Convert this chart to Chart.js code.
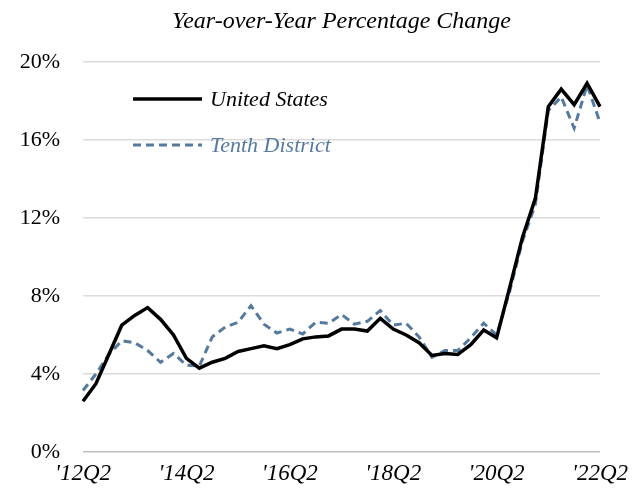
<!DOCTYPE html>
<html>
<head>
<meta charset="utf-8">
<script src="https://cdn.jsdelivr.net/npm/chart.js@4"></script>
<style>
    html, body { margin: 0; padding: 0; background: #fff; }
    #wrap { width: 639px; height: 500px; }
</style>
</head>
<body>
<div id="wrap"><canvas id="chart" width="639" height="500"></canvas></div>
<script>
// quarters '12Q2 .. '22Q2
const quarters = [
    "'12Q2", "'12Q3", "'12Q4",
    "'13Q1", "'13Q2", "'13Q3", "'13Q4",
    "'14Q1", "'14Q2", "'14Q3", "'14Q4",
    "'15Q1", "'15Q2", "'15Q3", "'15Q4",
    "'16Q1", "'16Q2", "'16Q3", "'16Q4",
    "'17Q1", "'17Q2", "'17Q3", "'17Q4",
    "'18Q1", "'18Q2", "'18Q3", "'18Q4",
    "'19Q1", "'19Q2", "'19Q3", "'19Q4",
    "'20Q1", "'20Q2", "'20Q3", "'20Q4",
    "'21Q1", "'21Q2", "'21Q3", "'21Q4",
    "'22Q1", "'22Q2"
];

const unitedStates = [
    2.6, 3.5, 5.0, 6.5, 7.0, 7.4, 6.8, 6.0, 4.8, 4.3,
    4.6, 4.8, 5.15, 5.3, 5.45, 5.3, 5.5, 5.8, 5.9, 5.95,
    6.3, 6.3, 6.2, 6.85, 6.3, 6.0, 5.6, 4.95, 5.05, 5.0,
    5.5, 6.25, 5.85, 8.4, 11.0, 13.0, 17.7, 18.6, 17.8, 18.9,
    17.7
];

const tenthDistrict = [
    3.15, 4.0, 5.0, 5.7, 5.6, 5.2, 4.6, 5.05, 4.45, 4.4,
    5.9, 6.4, 6.65, 7.5, 6.55, 6.1, 6.3, 6.05, 6.65, 6.6,
    7.05, 6.55, 6.7, 7.25, 6.5, 6.6, 5.9, 4.85, 5.2, 5.2,
    5.85, 6.6, 6.0, 8.2, 10.8, 12.7, 17.5, 18.2, 16.6, 18.8,
    16.9
];

const yTicks = [0, 4, 8, 12, 16, 20];

const FONT = "'Liberation Serif', 'Times New Roman', serif";
const BLUE = '#557a9e';

// legend drawn inside the plot, stacked, like the original
const insideLegend = {
    id: 'insideLegend',
    afterDraw(chart) {
        const ctx = chart.ctx;
        const x0 = 133, x1 = 202;
        const rows = [{ y: 99 }, { y: 145 }];
        ctx.save();
        chart.data.datasets.forEach((ds, i) => {
            const y = rows[i].y;
            ctx.beginPath();
            ctx.lineWidth = ds.borderWidth;
            ctx.strokeStyle = ds.borderColor;
            ctx.setLineDash(ds.borderDash || []);
            ctx.moveTo(x0, y);
            ctx.lineTo(x1, y);
            ctx.stroke();
            ctx.setLineDash([]);
            ctx.font = 'italic 22px ' + FONT;
            ctx.fillStyle = i === 0 ? '#000' : BLUE;
            ctx.textBaseline = 'middle';
            ctx.fillText(ds.label, 210, y + 1);
        });
        ctx.restore();
    }
};

new Chart(document.getElementById('chart'), {
    type: 'line',
    data: {
        labels: quarters,
        datasets: [
            {
                label: 'United States',
                data: unitedStates,
                borderColor: '#000',
                borderWidth: 3.5,
                pointRadius: 0,
                tension: 0
            },
            {
                label: 'Tenth District',
                data: tenthDistrict,
                borderColor: BLUE,
                borderWidth: 3,
                borderDash: [8, 5],
                pointRadius: 0,
                tension: 0
            }
        ]
    },
    options: {
        responsive: false,
        animation: false,
        layout: { padding: { left: 0, right: 39, top: 0, bottom: 8 } },
        plugins: {
            legend: { display: false },
            tooltip: { enabled: false },
            title: {
                display: true,
                fullSize: false,   // centre the title over the plot, not the canvas
                text: 'Year-over-Year Percentage Change',
                color: '#000',
                font: { family: FONT, size: 24, style: 'italic', weight: 'normal' },
                padding: { top: 7, bottom: 26 }
            }
        },
        scales: {
            x: {
                grid: { display: false, drawTicks: false },
                border: { display: false },
                afterFit: s => { s.height = 40; },
                ticks: {
                    autoSkip: false,
                    maxRotation: 0,
                    padding: 8,
                    color: '#000',
                    font: { family: FONT, size: 23, style: 'italic' },
                    callback: (v, i) => (i % 8 === 0 ? quarters[i] : '')
                }
            },
            y: {
                min: 0,
                max: 20,
                afterFit: s => { s.width = 83; },
                afterBuildTicks: s => { s.ticks = yTicks.map(v => ({ value: v })); },
                grid: {
                    drawTicks: false,
                    lineWidth: 1.5,
                    color: c => (c.tick && c.tick.value === 0 ? '#c0c0c0' : '#dcdcdc')
                },
                border: { display: false },
                ticks: {
                    padding: 23,
                    color: '#000',
                    font: { family: FONT, size: 22 },
                    callback: v => v + '%'
                }
            }
        }
    },
    plugins: [insideLegend]
});
</script>
</body>
</html>
